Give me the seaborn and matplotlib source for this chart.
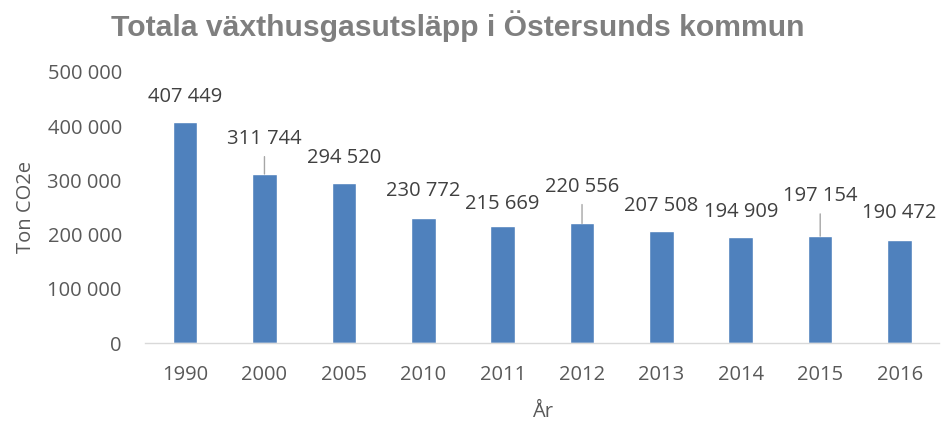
import numpy as np
import pandas as pd
import matplotlib
matplotlib.use("Agg")
import matplotlib.pyplot as plt
import seaborn as sns

# data
years = ["1990", "2000", "2005", "2010", "2011", "2012", "2013", "2014", "2015", "2016"]
emissions = [407449, 311744, 294520, 230772, 215669, 220556, 207508, 194909, 197154, 190472]
# label centre above bar top (points) and whether a leader line is drawn
label_offset = [18, 25.5, 18, 19.4, 15.8, 26.6, 18, 18, 29, 19]
leader = [False, True, False, False, False, True, False, False, True, False]

df = pd.DataFrame({"year": years, "ton": emissions})

sns.set_theme(style="white")
plt.rcParams["font.family"] = ["Open Sans", "DejaVu Sans"]

txt = "#595959"
fs = 14.5
fig, ax = plt.subplots(figsize=(9.44, 4.23), dpi=100)
fig.subplots_adjust(left=0.154, right=0.995, bottom=0.189, top=0.830)

sns.barplot(data=df, x="year", y="ton", color="#4F81BD", width=0.31,
            saturation=1, ax=ax)

ax.set_ylim(0, 500000)
ax.set_yticks(np.arange(0, 500001, 100000))
ax.set_yticklabels([f"{v:,}".replace(",", " ") for v in range(0, 500001, 100000)])
ax.tick_params(axis="both", colors=txt, labelsize=fs, length=0)
ax.tick_params(axis="y", pad=17)
ax.tick_params(axis="x", pad=16)

for s in ["top", "right", "left"]:
    ax.spines[s].set_visible(False)
ax.spines["bottom"].set_color("#D9D9D9")
ax.spines["bottom"].set_linewidth(1)

ax.set_xlabel("År", color=txt, fontsize=fs, labelpad=12)
ax.set_ylabel("Ton CO2e", color=txt, fontsize=fs, labelpad=8)

for i, v in enumerate(emissions):
    lab = f"{v:,}".replace(",", " ")
    ax.annotate(lab, xy=(i, v), xytext=(0, label_offset[i]), textcoords="offset points",
                ha="center", va="center", fontsize=fs, color="#404040")
    if leader[i]:
        ax.annotate("", xy=(i, v), xytext=(0, label_offset[i] - 13),
                    textcoords="offset points",
                    arrowprops=dict(arrowstyle="-", color="#A6A6A6", lw=1,
                                    shrinkA=0, shrinkB=0))

fig.suptitle("Totala växthusgasutsläpp i Östersunds kommun", x=0.485, y=0.975,
             fontsize=21.7, fontweight="bold", color="#7F7F7F",
             family=["Liberation Sans", "DejaVu Sans"])

fig.savefig("out.png", dpi=100)
